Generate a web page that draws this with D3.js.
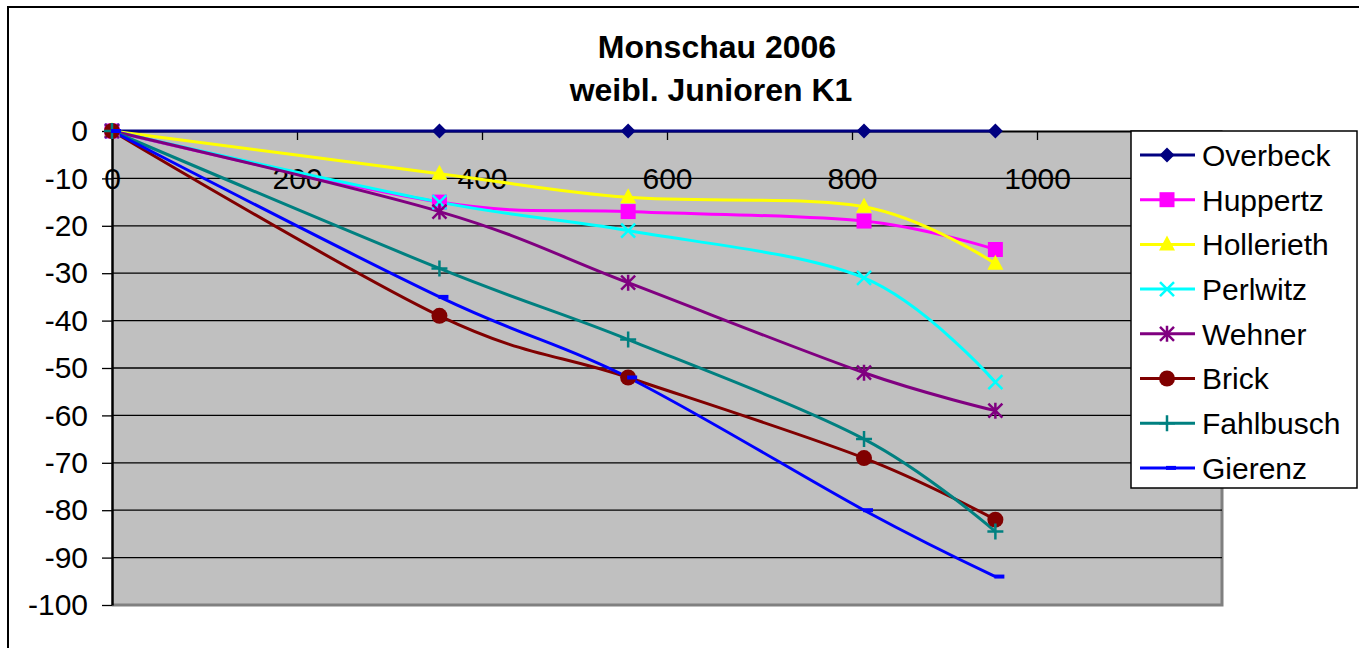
<!DOCTYPE html>
<html>
<head>
<meta charset="utf-8">
<script src="https://cdn.jsdelivr.net/npm/d3@7"></script>
<style>
  body { margin: 0; background: #fff; }
  text { font-family: "Liberation Sans", Arial, sans-serif; }
</style>
</head>
<body>
<svg id="chart" width="1359" height="648"></svg>
<script>
// race distances (x) and time gaps per paddler
var distances = [0, 354, 558, 813, 955]
var names = ["Overbeck", "Huppertz", "Hollerieth", "Perlwitz", "Wehner", "Brick", "Fahlbusch", "Gierenz"]
var overbeck   = [0, 0, 0, 0, 0]
var huppertz   = [0, -15, -17, -19, -25]
var hollerieth = [0, -9, -14, -16, -28]
var perlwitz   = [0, -15, -21, -31, -53]
var wehner     = [0, -17, -32, -51, -59]
var brick      = [0, -39, -52, -69, -82]
var fahlbusch  = [0, -29, -44, -65, -84.5]
var gierenz    = [0, -35, -52, -80, -94]
var xTicks = [0, 200, 400, 600, 800, 1000, 1200]
var yTicks = [0, -10, -20, -30, -40, -50, -60, -70, -80, -90, -100]

var colors  = ["#000080", "#ff00ff", "#ffff00", "#00ffff", "#800080", "#800000", "#008080", "#0000ff"]
var markers = ["diamond", "square", "triangle", "x", "star", "circle", "plus", "dash"]
var values  = [overbeck, huppertz, hollerieth, perlwitz, wehner, brick, fahlbusch, gierenz]

var series = names.map(function(n, i) {
  return { name: n, color: colors[i], marker: markers[i],
           points: distances.map(function(d, j) { return [d, values[i][j]] }) }
})

var svg = d3.select("#chart")

// outer chart frame (only left and top show in picture)
svg.append("rect")
   .attr("x", 8).attr("y", 7)
   .attr("width", 1400).attr("height", 700)
   .attr("fill", "none").attr("stroke", "#000").attr("stroke-width", 2)

var pLeft = 112, pRight = 1222, pTop = 131, pBottom = 605
var x = d3.scaleLinear().domain([0, 1200]).range([pLeft, pRight])
var y = d3.scaleLinear().domain([0, -100]).range([pTop, pBottom])

// plain hyphen minus like the original
var fmt = function(d) { return String(d) }

// plot area
svg.append("rect")
   .attr("x", pLeft).attr("y", pTop)
   .attr("width", pRight - pLeft).attr("height", pBottom - pTop)
   .attr("fill", "#c0c0c0")
svg.append("path")
   .attr("d", "M" + pRight + "," + pTop + "V" + pBottom + "H" + pLeft)
   .attr("fill", "none").attr("stroke", "#808080").attr("stroke-width", 3)

// gridlines
svg.append("g").selectAll("line")
   .data(yTicks.filter(function(t) { return t !== 0 && t !== -100 }))
   .enter().append("line")
   .attr("x1", pLeft).attr("x2", pRight)
   .attr("y1", function(d) { return y(d) }).attr("y2", function(d) { return y(d) })
   .attr("stroke", "#000").attr("stroke-width", 1.3)

// y axis
var yAxis = svg.append("g")
   .attr("transform", "translate(" + pLeft + ",0)")
   .call(d3.axisLeft(y).tickValues(yTicks).tickSize(10).tickPadding(14).tickSizeOuter(0).tickFormat(fmt))
yAxis.select(".domain").attr("stroke", "#000").attr("stroke-width", 2.5)
yAxis.selectAll(".tick line").attr("stroke", "#000").attr("stroke-width", 1.3)
yAxis.selectAll("text").attr("font-size", 30).attr("fill", "#000")
     .style("font-family", "'Liberation Sans', Arial, sans-serif")

// x axis on the zero line, ticks pointing down, labels below
var xAxis = svg.append("g")
   .attr("transform", "translate(0," + pTop + ")")
   .call(d3.axisBottom(x).tickValues(xTicks).tickSize(9).tickSizeOuter(0).tickFormat(fmt))
xAxis.select(".domain").attr("stroke", "#000").attr("stroke-width", 2)
xAxis.selectAll(".tick line").attr("stroke", "#000").attr("stroke-width", 1.3)
xAxis.selectAll(".tick")
     .filter(function(d) { return d === 1200 }).select("text").remove()
xAxis.selectAll("text").attr("font-size", 30).attr("fill", "#000")
     .attr("y", 47).attr("dy", "0.35em")
     .style("font-family", "'Liberation Sans', Arial, sans-serif")

// lines
var line = d3.line()
   .x(function(d) { return x(d[0]) })
   .y(function(d) { return y(d[1]) })
   .curve(d3.curveCardinal.tension(0))

svg.append("g").selectAll("path")
   .data(series)
   .enter().append("path")
   .attr("d", function(s) { return line(s.points) })
   .attr("fill", "none")
   .attr("stroke", function(s) { return s.color })
   .attr("stroke-width", 3)

function drawMarker(g, type, color) {
  if (type === "diamond") {
    g.append("path").attr("d", "M0,-7.5L7.5,0L0,7.5L-7.5,0Z").attr("fill", color)
  } else if (type === "square") {
    g.append("rect").attr("x", -7.5).attr("y", -7.5).attr("width", 15).attr("height", 15).attr("fill", color)
  } else if (type === "triangle") {
    g.append("path").attr("d", "M0,-9L8,6L-8,6Z").attr("fill", color)
  } else if (type === "x") {
    g.append("path").attr("d", "M-7,-7L7,7M7,-7L-7,7").attr("stroke", color).attr("stroke-width", 2.5)
  } else if (type === "star") {
    g.append("path").attr("d", "M-7,-7L7,7M7,-7L-7,7M0,-8V8")
     .attr("stroke", color).attr("stroke-width", 2.5)
  } else if (type === "circle") {
    g.append("circle").attr("r", 8).attr("fill", color)
  } else if (type === "plus") {
    g.append("path").attr("d", "M-8,0H8M0,-8V8").attr("stroke", color).attr("stroke-width", 2.5)
  } else if (type === "dash") {
    g.append("rect").attr("x", -1).attr("y", -2).attr("width", 10).attr("height", 4).attr("fill", color)
  }
}

series.forEach(function(s) {
  svg.append("g").selectAll("g")
     .data(s.points)
     .enter().append("g")
     .attr("transform", function(d) { return "translate(" + x(d[0]) + "," + y(d[1]) + ")" })
     .each(function() { drawMarker(d3.select(this), s.marker, s.color) })
})

// title
var title = svg.append("text")
   .attr("x", 717).attr("text-anchor", "middle")
   .attr("font-size", 32).attr("font-weight", "bold").attr("fill", "#000")
title.append("tspan").attr("x", 717).attr("y", 58).text("Monschau 2006")
title.append("tspan").attr("x", 711).attr("y", 101).text("weibl. Junioren K1")

// legend
var legend = svg.append("g")
legend.append("rect")
   .attr("x", 1131).attr("y", 131).attr("width", 226).attr("height", 357)
   .attr("fill", "#fff").attr("stroke", "#000").attr("stroke-width", 1.5)

var item = legend.selectAll("g.item")
   .data(series)
   .enter().append("g")
   .attr("class", "item")
   .attr("transform", function(d, i) { return "translate(0," + (155 + i * 44.7) + ")" })

item.append("line")
    .attr("x1", 1140).attr("x2", 1195)
    .attr("stroke", function(d) { return d.color }).attr("stroke-width", 3)
item.append("g")
    .attr("transform", "translate(1167,0)")
    .each(function(d) { drawMarker(d3.select(this), d.marker, d.color) })
item.append("text")
    .attr("x", 1202).attr("dy", "0.36em")
    .attr("font-size", 30).attr("fill", "#000")
    .text(function(d) { return d.name })
</script>
</body>
</html>
